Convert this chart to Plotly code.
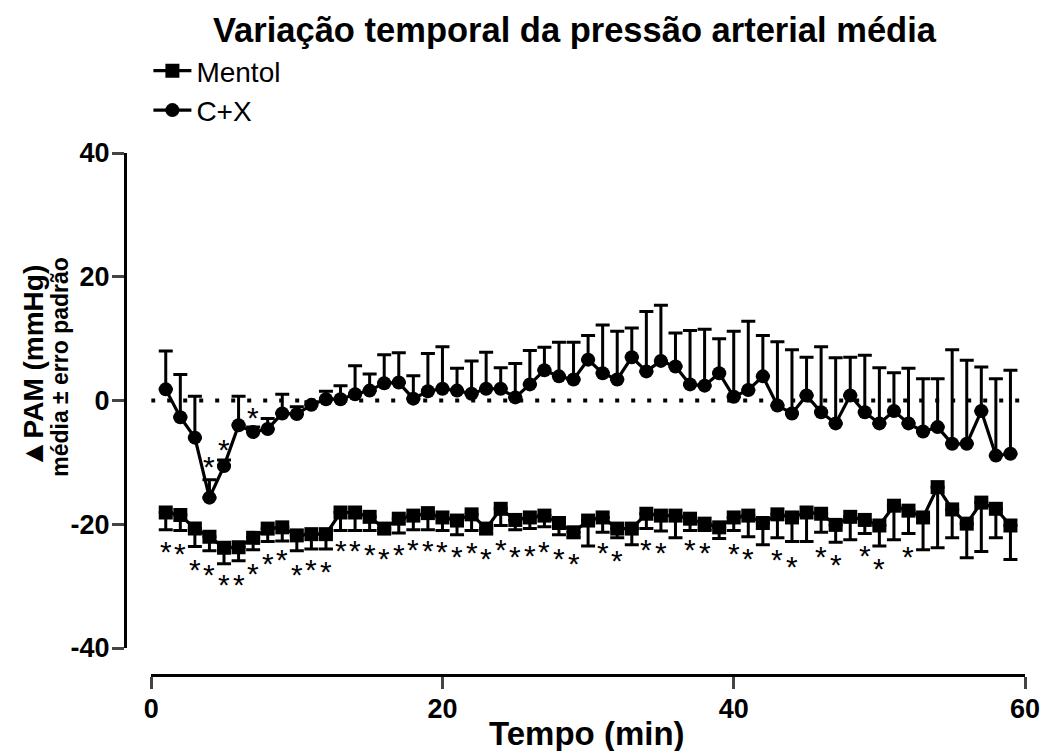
import plotly.graph_objects as go

# ---------------- data ----------------
time_min = list(range(1, 60))

cx_mean = [1.8, -2.7, -6.0, -15.7, -10.6, -4.0, -5.1, -4.6, -2.1, -2.2,
           -0.7, 0.2, 0.2, 1.0, 1.6, 2.8, 2.9, 0.3, 1.5, 1.9,
           1.6, 1.1, 1.9, 1.9, 0.5, 2.6, 4.9, 3.9, 3.4, 6.6,
           4.4, 3.4, 7.0, 4.7, 6.4, 5.5, 2.6, 2.4, 4.4, 0.6,
           1.7, 3.9, -0.8, -2.1, 0.8, -1.9, -3.7, 0.8, -1.9, -3.7,
           -1.7, -3.7, -5.0, -4.3, -7.0, -7.0, -1.7, -8.9, -8.6]
cx_sem = [6.2, 6.9, 6.7, 2.9, 1.0, 4.7, 0.8, 1.7, 3.1, 1.2,
          0.5, 1.3, 2.2, 4.6, 2.7, 4.6, 4.8, 3.7, 6.1, 6.8,
          3.6, 5.3, 5.9, 3.4, 5.5, 5.5, 3.7, 5.5, 6.0, 3.9,
          7.8, 7.8, 4.7, 9.7, 9.0, 5.4, 8.7, 9.1, 5.6, 10.6,
          11.1, 6.6, 10.3, 10.3, 6.2, 10.6, 10.6, 6.2, 9.2, 9.0,
          6.2, 8.9, 8.5, 7.8, 15.2, 13.5, 7.1, 12.4, 13.5]

mentol_mean = [-18.1, -18.5, -20.7, -22.0, -23.8, -23.7, -22.2, -20.7, -20.5, -21.8,
               -21.6, -21.6, -18.1, -18.1, -18.8, -20.7, -19.1, -18.6, -18.2, -18.9,
               -19.4, -18.4, -20.7, -17.5, -19.3, -18.9, -18.6, -19.8, -21.3, -19.4,
               -18.9, -20.7, -20.7, -18.3, -18.6, -18.6, -19.1, -19.9, -20.5, -18.9,
               -18.6, -19.8, -18.4, -18.9, -18.1, -18.3, -20.1, -18.8, -19.3, -20.2,
               -17.0, -17.8, -18.9, -14.0, -17.6, -19.9, -16.5, -17.5, -20.2]
mentol_sem = [2.8, 2.5, 2.9, 2.3, 2.6, 2.2, 1.9, 2.1, 2.2, 2.5,
              2.4, 2.4, 2.9, 2.9, 2.2, 0.7, 2.3, 2.3, 2.7, 2.1,
              2.3, 2.6, 0.8, 2.7, 1.6, 1.8, 1.8, 1.9, 0.8, 4.1,
              2.4, 1.5, 2.6, 2.4, 2.5, 3.6, 1.9, 1.1, 1.8, 2.1,
              3.4, 3.5, 3.8, 3.9, 4.7, 3.0, 2.8, 3.7, 2.2, 3.3,
              5.5, 3.7, 5.2, 9.8, 4.6, 5.5, 7.9, 4.7, 5.5]

# significance markers (*)
mentol_sig_t = [1, 2, 3, 4, 5, 6, 7, 8, 9, 10, 11, 12, 13, 14, 15, 16, 17, 18, 19, 20,
                21, 22, 23, 24, 25, 26, 27, 28, 29, 31, 32, 34, 35, 37, 38, 40, 41,
                43, 44, 46, 47, 49, 50, 52]
mentol_sig_y = [-23.5, -23.8, -26.4, -27.1, -28.8, -28.7, -27.0, -25.3, -24.8, -27.2,
                -26.4, -26.6, -23.2, -23.3, -23.9, -24.6, -23.9, -23.1, -23.2, -23.5,
                -24.3, -23.6, -24.5, -23.1, -24.3, -24.0, -23.5, -24.5, -25.4, -23.6,
                -24.9, -23.1, -23.6, -23.1, -23.6, -23.8, -24.5, -24.7, -25.8, -24.2,
                -25.5, -24.0, -26.2, -24.2]
cx_sig_t = [4, 5, 7]
cx_sig_y = [-9.7, -6.9, -1.8]

x_ticks = [0, 20, 40, 60]
y_ticks = [-40, -20, 0, 20, 40]
y_tick_text = ["-40", "-20", "0", "20", "40"]

FONT = "Liberation Sans, Arial, sans-serif"
STAR_SIZE = 30
zero_flat = [0] * len(time_min)

fig = go.Figure()

fig.add_trace(go.Scatter(
    x=time_min, y=mentol_mean, name="Mentol", mode="lines+markers",
    line=dict(color="black", width=3.2),
    marker=dict(symbol="square", size=14, color="black"),
    error_y=dict(type="data", symmetric=False, array=zero_flat, arrayminus=mentol_sem,
                 color="black", thickness=3, width=7),
))
fig.add_trace(go.Scatter(
    x=time_min, y=cx_mean, name="C+X", mode="lines+markers",
    line=dict(color="black", width=3.2),
    marker=dict(symbol="circle", size=14, color="black"),
    error_y=dict(type="data", symmetric=False, array=cx_sem, arrayminus=zero_flat,
                 color="black", thickness=3, width=7),
))

fig.add_shape(type="line", xref="x", yref="y", x0=0, x1=60, y0=0, y1=0,
              line=dict(color="black", width=4, dash="4px,12px"), layer="below")

annotations = [
    dict(text="Variação temporal da pressão arterial média", xref="paper", yref="paper",
         x=0.5005, y=1.2356, xanchor="center", yanchor="middle", showarrow=False,
         font=dict(family=FONT, size=34.5, weight="bold", color="black")),
    dict(text="Tempo (min)", xref="paper", yref="paper",
         x=(593 - 125) / 911, y=(675 - 733) / 522, xanchor="center", yanchor="middle",
         showarrow=False, font=dict(family=FONT, size=33, weight="bold", color="black")),
    dict(text="<span style='font-size:30px'>▲</span>PAM (mmHg)", xref="paper", yref="paper",
         textangle=-90, x=(31 - 125) / 911, y=(675 - 367) / 522,
         xanchor="center", yanchor="middle", showarrow=False,
         font=dict(family=FONT, size=28, weight="bold", color="black")),
    dict(text="média ± erro padrão", xref="paper", yref="paper", textangle=-90,
         x=(59 - 125) / 911, y=(675 - 367) / 522, xanchor="center", yanchor="middle",
         showarrow=False, font=dict(family=FONT, size=23, weight="bold", color="black")),
]
for t, v in list(zip(mentol_sig_t, mentol_sig_y)) + list(zip(cx_sig_t, cx_sig_y)):
    annotations.append(dict(text="*", x=t, y=v, xref="x", yref="y", showarrow=False,
                            xanchor="center", yanchor="middle", yshift=-0.2 * STAR_SIZE,
                            font=dict(family=FONT, size=STAR_SIZE, color="black")))

fig.update_layout(
    width=1052, height=751,
    margin=dict(l=125, r=16, t=153, b=76),
    paper_bgcolor="white", plot_bgcolor="white",
    font=dict(family=FONT, color="black"),
    showlegend=True,
    legend=dict(x=0.026, y=1.205, xanchor="left", yanchor="top",
                font=dict(family=FONT, size=28, color="black"),
                itemwidth=38,
                bgcolor="rgba(0,0,0,0)", tracegroupgap=0),
    xaxis=dict(range=[0, 60], domain=[0.0291, 1], anchor="free", position=0,
               tickvals=x_ticks, ticks="outside", ticklen=12, tickwidth=3,
               showline=True, linewidth=3, linecolor="black", showgrid=False,
               zeroline=False, ticklabelstandoff=-3,
               tickfont=dict(family=FONT, size=27, weight="bold", color="black")),
    yaxis=dict(range=[-40, 40], domain=[0.0517, 1], anchor="free", position=0,
               tickvals=y_ticks, ticktext=y_tick_text, ticks="outside", ticklen=12,
               tickwidth=3, ticklabelstandoff=-3,
               showline=True, linewidth=3, linecolor="black", showgrid=False,
               zeroline=False,
               tickfont=dict(family=FONT, size=27, weight="bold", color="black")),
    annotations=annotations,
)

fig.write_html("out.html")
